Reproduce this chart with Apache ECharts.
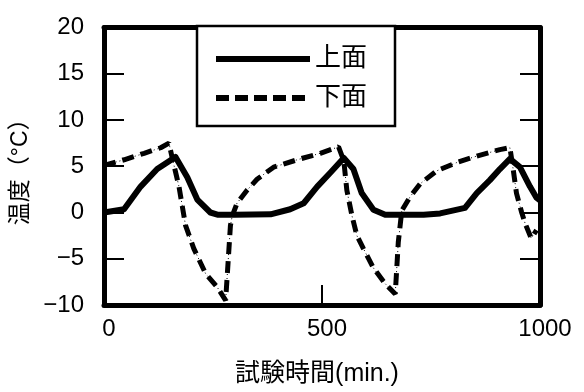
<!DOCTYPE html>
<html>
<head>
<meta charset="utf-8">
<script src="https://cdn.jsdelivr.net/npm/echarts@6/dist/echarts.min.js"></script>
<style>
html,body{margin:0;padding:0;background:#fff;}
#chart{width:584px;height:392px;}
</style>
</head>
<body>
<div id="chart"></div>
<script>
// Time (min.) and temperature (°C)
const upperTime = [0, 46, 84, 122, 164, 191, 214, 244, 262, 300, 382, 427, 458, 489, 519, 550, 572, 591, 618, 645, 733, 771, 828, 855, 885, 908, 931, 954, 977, 992, 1000];
const upperTemp = [0.0, 0.35, 2.8, 4.7, 6.0, 3.8, 1.4, 0.0, -0.25, -0.25, -0.2, 0.35, 1.0, 2.8, 4.3, 5.9, 4.7, 2.1, 0.3, -0.25, -0.25, -0.1, 0.5, 2.1, 3.5, 4.7, 5.8, 4.9, 2.8, 1.6, 1.3];

const lowerTime = [0, 46, 92, 130, 149, 156, 172, 187, 206, 233, 260, 279, 290, 294, 305, 328, 351, 389, 443, 496, 538, 550, 557, 569, 580, 595, 618, 645, 668, 675, 683, 702, 725, 763, 809, 855, 908, 931, 939, 946, 958, 966, 980, 992];
const lowerTemp = [5.1, 5.7, 6.4, 7.0, 7.5, 6.0, 2.8, -1.4, -3.9, -6.6, -8.1, -9.5, -1.4, -0.4, 1.0, 2.4, 3.6, 4.9, 5.7, 6.4, 7.1, 5.6, 2.4, -0.4, -2.5, -3.9, -6.0, -7.7, -8.8, -3.2, 0.2, 1.7, 3.1, 4.5, 5.4, 6.1, 6.8, 7.0, 4.5, 2.1, 0.0, -1.2, -2.8, -1.9];

const seriesNames = ['上面', '下面'];
const xAxisName = '試験時間(min.)';
const yAxisName = '温度（°C）';

const upperData = upperTime.map((t, i) => [t, upperTemp[i]]);
const lowerData = lowerTime.map((t, i) => [t, lowerTemp[i]]);

const FONT = "'Liberation Sans', 'Noto Sans CJK JP', sans-serif";
const chart = echarts.init(document.getElementById('chart'), null, {renderer: 'canvas'});

const axisLine = {show: true, onZero: false, lineStyle: {color: '#000', width: 5}};
const minusFmt = v => (v < 0 ? '\u2212' + Math.abs(v) : String(v));

chart.setOption({
  backgroundColor: '#fff',
  animation: false,
  grid: {left: 104, right: 44, top: 27.5, bottom: 79.5, containLabel: false},
  legend: {
    show: true,
    orient: 'vertical',
    left: 197,
    top: 26,
    backgroundColor: '#fff',
    borderColor: '#000',
    borderWidth: 2.5,
    borderRadius: 0,
    padding: [20, 28, 15, 16],
    itemGap: 13,
    itemWidth: 94,
    itemHeight: 14,
    itemStyle: {opacity: 0},
    lineStyle: {width: 6},
    textStyle: {fontFamily: FONT, fontSize: 26, color: '#000'},
    data: [
      {name: seriesNames[0], lineStyle: {width: 6, type: 'solid'}},
      {name: seriesNames[1], lineStyle: {width: 6, type: [13, 6]}}
    ]
  },
  xAxis: [
    {
      type: 'value', min: 0, max: 1000, interval: 500, position: 'bottom',
      name: xAxisName, nameLocation: 'middle', nameGap: 57,
      nameTextStyle: {fontFamily: FONT, fontSize: 25, color: '#000', padding: [0, 10, 0, 0]},
      axisLine: axisLine,
      axisTick: {show: true, inside: true, length: 20, lineStyle: {color: '#000', width: 2}},
      axisLabel: {fontFamily: FONT, fontSize: 24, color: '#000', margin: 12, padding: [0, 0, 0, 10], formatter: v => String(v)},
      splitLine: {show: false}
    },
    {
      type: 'value', min: 0, max: 1000, interval: 500, position: 'top',
      axisLine: axisLine, axisTick: {show: false}, axisLabel: {show: false}, splitLine: {show: false}
    }
  ],
  yAxis: [
    {
      type: 'value', min: -10, max: 20, interval: 5, position: 'left',
      name: yAxisName, nameLocation: 'middle', nameGap: 64,
      nameTextStyle: {fontFamily: FONT, fontSize: 23, color: '#000'},
      axisLine: axisLine,
      axisTick: {show: true, inside: true, length: 20, lineStyle: {color: '#000', width: 2}},
      axisLabel: {fontFamily: FONT, fontSize: 24, color: '#000', margin: 20, formatter: minusFmt},
      splitLine: {show: false}
    },
    {
      type: 'value', min: -10, max: 20, interval: 5, position: 'right',
      axisLine: axisLine,
      axisTick: {show: true, inside: true, length: 20, lineStyle: {color: '#000', width: 2}},
      axisLabel: {show: false}, splitLine: {show: false}
    }
  ],
  series: [
    {
      name: 'thin', type: 'line', data: lowerData,
      showSymbol: false, symbol: 'none', silent: true,
      lineStyle: {color: '#000', width: 1, type: [1, 3]}, z: 2
    },
    {
      name: seriesNames[1], type: 'line', data: lowerData,
      showSymbol: false, symbol: 'none', color: '#000',
      lineStyle: {color: '#000', width: 5, type: [12, 7]}, z: 3
    },
    {
      name: seriesNames[0], type: 'line', data: upperData,
      showSymbol: false, symbol: 'none', color: '#000',
      lineStyle: {color: '#000', width: 6, type: 'solid', join: 'round'}, z: 4
    }
  ]
});
</script>
</body>
</html>
